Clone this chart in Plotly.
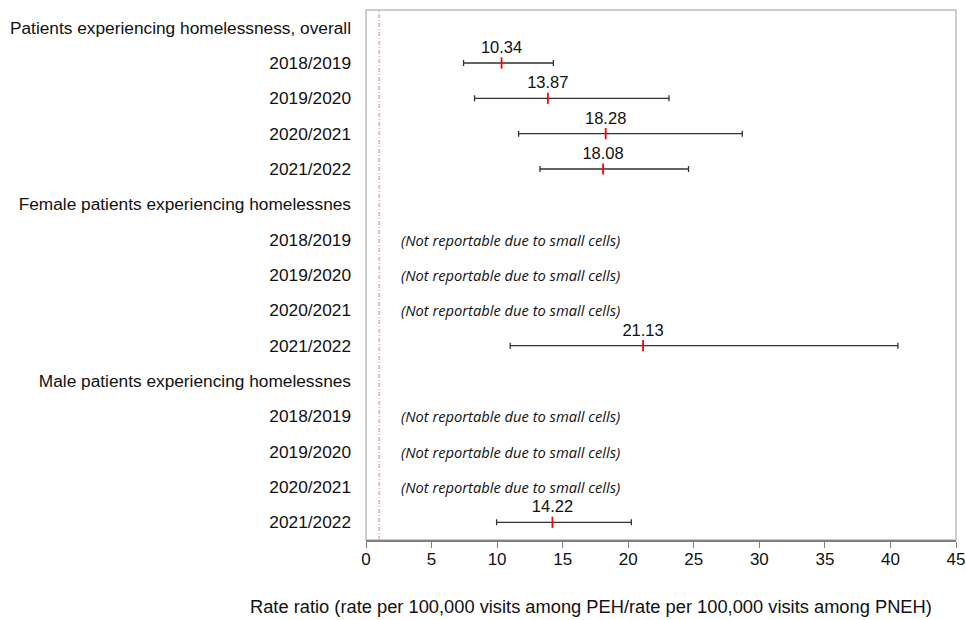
import plotly.graph_objects as go

# Row structure: group headings, each followed by four fiscal years
groups = [
    "Patients experiencing homelessness, overall",
    "Female patients experiencing homelessnes",
    "Male patients experiencing homelessnes",
]
years = ["2018/2019", "2019/2020", "2020/2021", "2021/2022"]

# Rate ratios with 95% confidence limits (None = not reportable)
overall_rr = [10.34, 13.87, 18.28, 18.08]
overall_lo = [7.44, 8.28, 11.64, 13.27]
overall_hi = [14.29, 23.11, 28.70, 24.60]

female_rr = [None, None, None, 21.13]
female_lo = [None, None, None, 11.00]
female_hi = [None, None, None, 40.57]

male_rr = [None, None, None, 14.22]
male_lo = [None, None, None, 9.96]
male_hi = [None, None, None, 20.24]

not_reportable = "(Not reportable due to small cells)"
x_ticks = [0, 5, 10, 15, 20, 25, 30, 35, 40, 45]
reference_value = 1
x_title = "Rate ratio (rate per 100,000 visits among PEH/rate per 100,000 visits among PNEH)"

# Flatten into one row list
row_labels, row_rr, row_lo, row_hi = [], [], [], []
for g, rr, lo, hi in [
    (groups[0], overall_rr, overall_lo, overall_hi),
    (groups[1], female_rr, female_lo, female_hi),
    (groups[2], male_rr, male_lo, male_hi),
]:
    row_labels.append(g)
    row_rr.append(None); row_lo.append(None); row_hi.append(None)
    for yr, r, l, h in zip(years, rr, lo, hi):
        row_labels.append(yr)
        row_rr.append(r); row_lo.append(l); row_hi.append(h)

row_pos = list(range(len(row_labels)))

pt_y, pt_x, err_plus, err_minus, pt_text = [], [], [], [], []
nr_y = []
for i, (lab, r, l, h) in enumerate(zip(row_labels, row_rr, row_lo, row_hi)):
    if lab in years:
        if r is None:
            nr_y.append(i)
        else:
            pt_y.append(i)
            pt_x.append(r)
            err_plus.append(h - r)
            err_minus.append(r - l)
            pt_text.append(f"{r:.2f}")

FONT = "Liberation Sans, Arial"

fig = go.Figure()

# Reference line at rate ratio = 1
fig.add_shape(
    type="line", xref="x", yref="paper",
    x0=reference_value, x1=reference_value, y0=0, y1=1,
    line=dict(color="#e08080", width=1, dash="4px,2px,1px,2px"),
    layer="below",
)

# Confidence intervals with point estimates
fig.add_trace(go.Scatter(
    x=pt_x, y=pt_y,
    mode="markers+text",
    marker=dict(symbol="line-ns", size=8, line=dict(color="#ff0000", width=1.8)),
    error_x=dict(type="data", symmetric=False, array=err_plus, arrayminus=err_minus,
                 color="#333333", thickness=1.3, width=3),
    text=pt_text,
    textposition="top center",
    textfont=dict(family=FONT, size=16.5, color="#111111"),
    showlegend=False,
    hoverinfo="skip",
))

# Suppressed rows
for y in nr_y:
    fig.add_annotation(
        x=2.5, y=y, xref="x", yref="y",
        text=f"<i>{not_reportable}</i>",
        showarrow=False, xanchor="left", yanchor="middle",
        font=dict(family="Open Sans, Noto Sans", size=14.7, color="#111111"),
    )

# Axis title, centred under the whole chart rather than the plot area
fig.add_annotation(
    xref="paper", yref="paper",
    x=(591 - 366) / (956 - 366), y=-0.125,
    text=x_title, showarrow=False,
    font=dict(family=FONT, size=18.3, color="#111111"),
    xanchor="center", yanchor="middle",
)

fig.update_layout(
    width=966, height=620,
    margin=dict(l=366, r=10, t=10, b=80),
    paper_bgcolor="white", plot_bgcolor="white",
    xaxis=dict(
        range=[0, 45], tickvals=x_ticks, ticktext=[str(v) for v in x_ticks],
        showgrid=False, zeroline=False, automargin=False,
        showline=True, linecolor="#7f7f7f", linewidth=1.5, mirror=False,
        ticks="outside", ticklen=6, tickcolor="#7f7f7f",
        ticklabelstandoff=-3,
        tickfont=dict(family=FONT, size=17, color="#111111"),
    ),
    yaxis=dict(
        range=[len(row_labels) - 0.5, -0.5],
        tickvals=row_pos, ticktext=row_labels,
        showgrid=False, zeroline=False, showline=False, ticks="",
        ticklabelstandoff=14, automargin=False,
        tickfont=dict(family=FONT, size=17.3, color="#111111"),
    ),
    shapes=list(fig.layout.shapes) + [
        dict(type="rect", xref="paper", yref="paper", x0=0, x1=1, y0=0, y1=1,
             line=dict(color="#bdbdbd", width=1.5), fillcolor="rgba(0,0,0,0)", layer="below"),
    ],
)

fig.write_html("out.html")
